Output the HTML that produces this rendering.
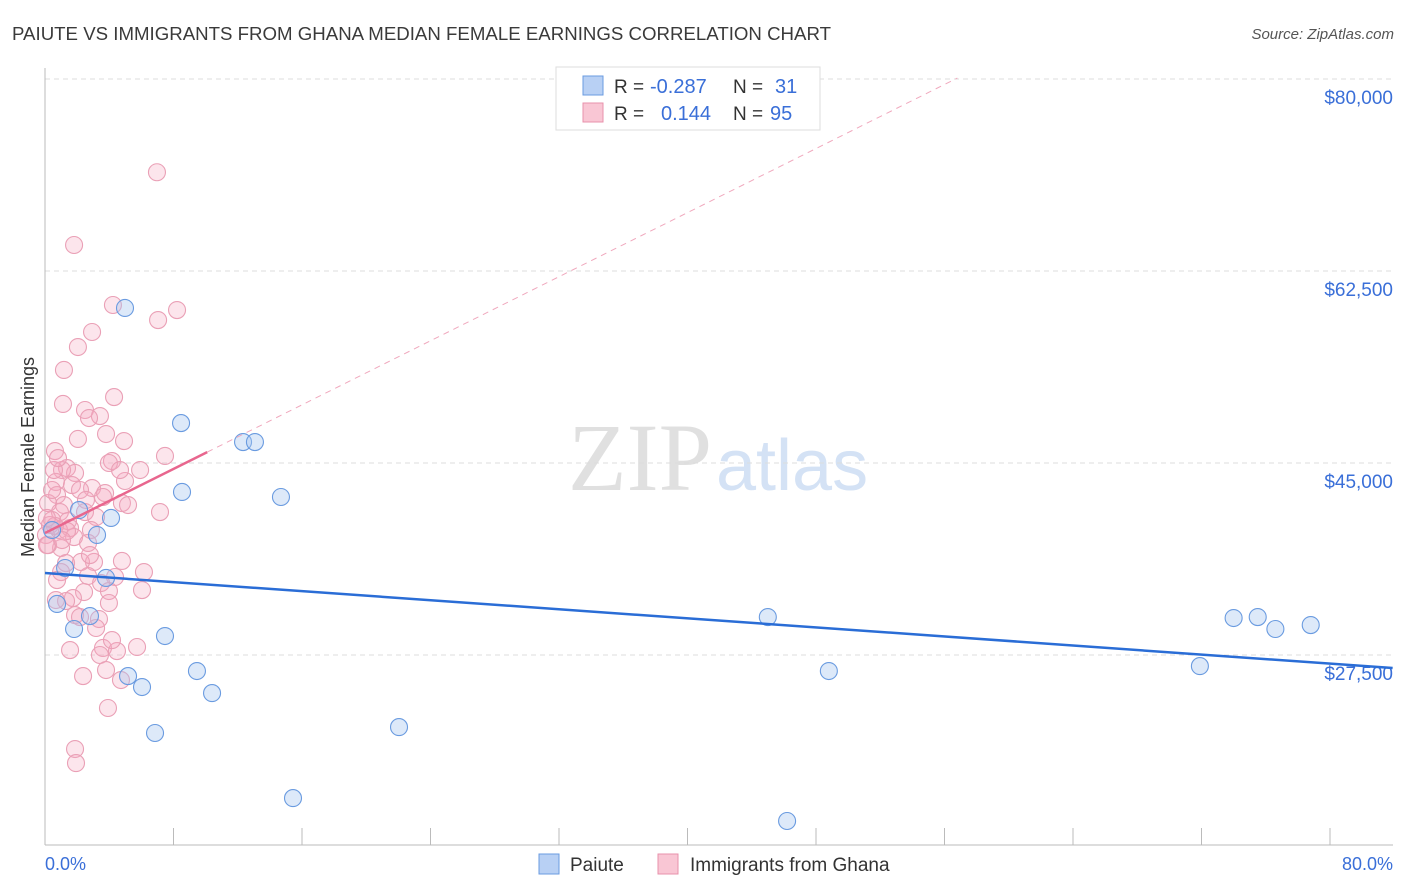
<!DOCTYPE html>
<html><head><meta charset="utf-8"><style>
body{margin:0;background:#fff;font-family:"Liberation Sans",sans-serif;}
svg{display:block}
</style></head><body>
<svg width="1406" height="892">
<text x="12" y="40" font-size="18" fill="#3a3a3a" textLength="819" lengthAdjust="spacingAndGlyphs">PAIUTE VS IMMIGRANTS FROM GHANA MEDIAN FEMALE EARNINGS CORRELATION CHART</text>
<text x="1394" y="39" font-size="15" fill="#555" font-style="italic" text-anchor="end">Source: ZipAtlas.com</text>
<text x="712" y="490" font-size="96" fill="#e0e0e0" text-anchor="end" font-family="Liberation Serif">ZIP</text>
<text x="716" y="490" font-size="72" fill="#d4e2f5">atlas</text>
<g id="grid"></g>
<line x1="45" y1="68" x2="45" y2="845" stroke="#bbb"/>
<line x1="45" y1="845" x2="1393" y2="845" stroke="#bbb"/>
<g id="xticks"></g>
<text x="45" y="870" font-size="18" fill="#3a6fd8">0.0%</text>
<text x="1393" y="870" font-size="18" fill="#3a6fd8" text-anchor="end">80.0%</text>
<text transform="translate(34,457) rotate(-90)" font-size="18" fill="#333" text-anchor="middle">Median Female Earnings</text>
<g id="pts"></g>
<g id="lines"></g>
<g>
<rect x="556" y="67" width="264" height="63" fill="#fff" stroke="#ddd"/>
<rect x="583" y="76" width="20" height="19" fill="#b8d0f4" stroke="#6a9be0"/>
<rect x="583" y="103" width="20" height="19" fill="#f9c6d4" stroke="#e891ab"/>
<text x="614" y="93" font-size="19" fill="#333">R =</text>
<text x="650" y="93" font-size="20" fill="#3a6fd8">-0.287</text>
<text x="733" y="93" font-size="19" fill="#333">N =</text>
<text x="775" y="93" font-size="20" fill="#3a6fd8">31</text>
<text x="614" y="120" font-size="19" fill="#333">R =</text>
<text x="661" y="120" font-size="20" fill="#3a6fd8">0.144</text>
<text x="733" y="120" font-size="19" fill="#333">N =</text>
<text x="770" y="120" font-size="20" fill="#3a6fd8">95</text>
</g>
<g>
<rect x="539" y="854" width="20" height="20" fill="#b8d0f4" stroke="#6a9be0"/>
<text x="570" y="871" font-size="19" fill="#333">Paiute</text>
<rect x="658" y="854" width="20" height="20" fill="#f9c6d4" stroke="#e891ab"/>
<text x="690" y="871" font-size="19" fill="#333">Immigrants from Ghana</text>
</g>
</svg>
<script>
const yTicks=[80000,62500,45000,27500];
const yTickLabels=["$80,000","$62,500","$45,000","$27,500"];
const xTicks=[0,8,16,24,32,40,48,56,64,72,80];
const paiuteX=[4.98,8.47,12.33,13.07,8.53,14.69,4.11,3.24,2.12,1.25,0.75,2.80,1.81,7.47,3.80,5.17,6.04,9.46,10.40,6.85,22.04,15.44,46.2,45.0,48.8,71.9,74.0,75.5,76.6,78.8,0.44];
const paiuteY=[59130,48640,46910,46910,42360,41900,39990,38440,40710,35430,32150,31050,29870,29230,34520,25580,24580,26040,24030,20390,20930,14460,12370,30960,26040,26490,30870,30960,29870,30230,38890];
const ghanaX=[6.97,1.81,4.23,8.22,7.04,2.93,2.05,1.18,1.12,4.30,2.49,3.42,2.74,2.05,4.92,3.80,0.62,4.17,7.47,3.98,1.37,1.87,1.06,4.98,0.68,1.68,2.93,0.75,3.74,4.79,3.61,1.18,0.19,7.16,2.49,0.93,3.18,0.44,1.43,0.31,1.56,0.87,2.86,0.06,1.81,2.68,1.00,0.19,4.79,3.05,2.24,1.31,6.16,1.00,4.36,2.68,0.75,3.49,3.98,2.43,1.74,1.31,3.98,1.87,2.18,3.36,3.18,1.56,3.61,4.48,5.73,3.42,3.80,2.37,4.73,3.92,1.87,1.93,0.56,0.44,0.81,0.12,0.62,1.37,1.06,0.12,2.18,2.55,4.67,5.17,2.80,6.04,0.68,4.17,5.92];
const ghanaY=[71500,64870,59400,58940,58030,56940,55570,53480,50380,51010,49830,49280,49100,47190,47000,47640,46090,45180,45640,45000,44540,44090,44360,43360,43270,42990,42720,42080,42260,41350,41900,41170,41350,40530,40530,40530,40080,39800,39710,39350,39070,38890,38890,38440,38250,37710,37250,37520,36070,35980,35980,35880,35060,35060,34610,34700,34330,34060,33330,33240,32690,32420,32240,31140,30960,30780,29960,27950,28140,27860,28230,27500,26130,25580,25220,22670,18930,17650,44360,42540,45450,37520,39260,38800,37980,39990,42540,41630,44360,41170,36610,33420,32510,28860,44360];
const paiuteLine=[34970,-103.2];
const ghanaLine=[38620,730];
const NS="http://www.w3.org/2000/svg";
const xs=v=>45+v*(1285/80);
const ys=v=>79+(80000-v)*192/17500;
function mk(tag,attrs,parent){const e=document.createElementNS(NS,tag);for(const k in attrs)e.setAttribute(k,attrs[k]);document.getElementById(parent).appendChild(e);return e;}
yTicks.forEach((t,i)=>{
 const l=mk('line',{x1:45,x2:1393,y1:ys(t),y2:ys(t),stroke:'#ddd','stroke-dasharray':'5,4'},'grid');
 
 
 const tx=mk('text',{x:1393,y:ys(t)+25,'font-size':19,fill:'#3a6fd8','text-anchor':'end'},'grid');
 tx.textContent=yTickLabels[i];
 
 
});
xTicks.forEach(t=>{
 const l=mk('line',{x1:xs(t),x2:xs(t),y1:828,y2:845,stroke:'#bbb'},'xticks');
 
 
});
ghanaX.forEach((x,i)=>{
 const c=mk('circle',{cx:xs(x),cy:ys(ghanaY[i]),r:8.5,fill:'rgba(245,170,192,0.3)',stroke:'#eaa0b6','stroke-width':1.1},'pts');
 
 
});
paiuteX.forEach((x,i)=>{
 const c=mk('circle',{cx:xs(x),cy:ys(paiuteY[i]),r:8.5,fill:'rgba(165,196,240,0.38)',stroke:'#6a9be0','stroke-width':1.1},'pts');
 
 
});
const pEnd=83.9;
const bl=mk('line',{x1:xs(0),y1:ys(paiuteLine[0]),x2:xs(pEnd),y2:ys(paiuteLine[0]+paiuteLine[1]*pEnd),stroke:'#2a6dd6','stroke-width':2.5},'lines');


const gSolid=10.1, gDash=56.8;
const gl=mk('line',{x1:xs(0),y1:ys(ghanaLine[0]),x2:xs(gSolid),y2:ys(ghanaLine[0]+ghanaLine[1]*gSolid),stroke:'#e8668e','stroke-width':2.5},'lines');


const gd=mk('line',{x1:xs(gSolid),y1:ys(ghanaLine[0]+ghanaLine[1]*gSolid),x2:xs(gDash),y2:ys(ghanaLine[0]+ghanaLine[1]*gDash),stroke:'#f0a8bd','stroke-width':1,'stroke-dasharray':'6,5'},'lines');


</script>
</body></html>
